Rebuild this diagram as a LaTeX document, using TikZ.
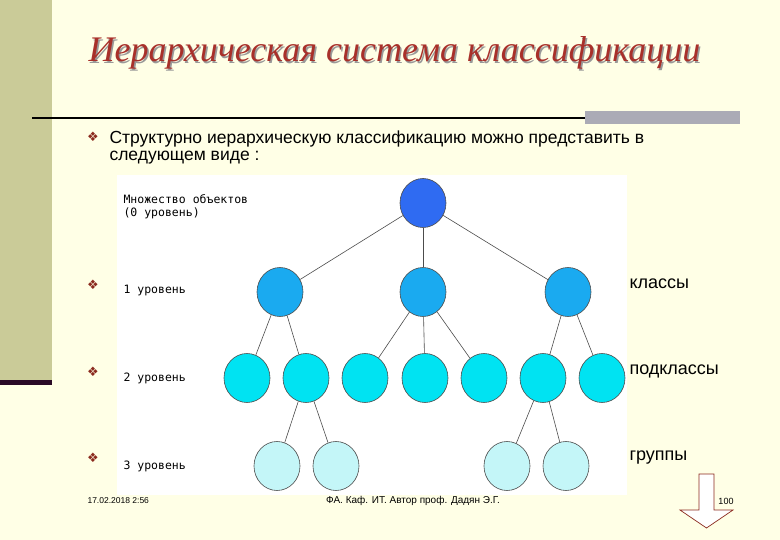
\documentclass[tikz,border=0pt]{standalone}
\usepackage{fontspec}
\setmainfont{Liberation Sans}
\newfontfamily\ttl{Liberation Serif}
\newfontfamily\dej{DejaVu Sans}
\newfontfamily\mono{DejaVu Sans Mono}
\usetikzlibrary{shapes.geometric}
\definecolor{bg}{HTML}{FFFFE6}
\definecolor{olive}{HTML}{CACB98}
\definecolor{dkp}{HTML}{2A0A26}
\definecolor{ttlc}{HTML}{A8302A}
\definecolor{gbar}{HTML}{ABABB6}
\definecolor{c0}{HTML}{2F6BF2}
\definecolor{c1}{HTML}{1AAAF0}
\definecolor{c2}{HTML}{00E3F2}
\definecolor{c3}{HTML}{C4F6F8}
\definecolor{bul}{HTML}{8B2A1E}
\begin{document}
\begin{tikzpicture}[x=1pt,y=-1pt,
  nd/.style={ellipse,draw=black!70,line width=0.6pt,minimum width=46pt,minimum height=49pt,inner sep=0pt},
  lvl/.style={anchor=west,font=\mono\fontsize{11.5}{13}\selectfont,align=left},
  bl/.style={font=\dej\fontsize{13}{14}\selectfont,text=bul},
  rt/.style={anchor=west,font=\fontsize{18}{20}\selectfont},
  ed/.style={draw=black!70,line width=0.6pt}]
\useasboundingbox (0,0) rectangle (780,540);
\fill[bg] (0,0) rectangle (780,540);
\fill[olive] (0,0) rectangle (52,380);
\fill[dkp] (0,380) rectangle (52,385);
\fill[gbar] (585,111) rectangle (740,124);
\draw[line width=2pt] (32,118) -- (585,118);
\node[anchor=west,text=black!40,font=\ttl\itshape\fontsize{36}{40}\selectfont] at (86.5,54.5) {Иерархическая система классификации};
\node[anchor=west,text=ttlc,font=\ttl\itshape\fontsize{36}{40}\selectfont] (title) at (85,53) {Иерархическая система классификации};
\node[bl] (b0) at (93,137) {❖};
\node[anchor=north west,align=left,font=\fontsize{17.5}{17}\selectfont] (t0) at (106,127) {Структурно иерархическую классификацию можно представить в\\следующем виде :};
\fill[white] (117,175) rectangle (627,495);
\node[nd,fill=c0] (r) at (423,203) {};
\node[nd,fill=c1] (a1) at (280,292) {};
\node[nd,fill=c1] (a2) at (423,292) {};
\node[nd,fill=c1] (a3) at (568,292) {};
\foreach \i/\x in {1/247,2/306,3/365,4/425,5/484,6/543,7/602}
  \node[nd,fill=c2] (b\i) at (\x,378) {};
\foreach \i/\x in {1/277,2/336,3/507,4/566}
  \node[nd,fill=c3] (c\i) at (\x,466) {};
\foreach \p/\c in {r/a1,r/a2,r/a3,a1/b1,a1/b2,a2/b3,a2/b4,a2/b5,a3/b6,a3/b7,b2/c1,b2/c2,b6/c3,b6/c4}
  \draw[ed] (\p) -- (\c);
\node[lvl] (l0) at (120,207) {Множество объектов\\(0 уровень)};
\node[lvl] (l1) at (120,291) {1 уровень};
\node[lvl] (l2) at (120,378) {2 уровень};
\node[lvl] (l3) at (120,466) {3 уровень};
\node[bl] (b1) at (93,285) {❖};
\node[bl] (b2) at (93,372) {❖};
\node[bl] (b3) at (93,458) {❖};
\node[rt] (k1) at (626,284) {классы};
\node[rt] (k2) at (626,371) {подклассы};
\node[rt] (k3) at (626,458) {группы};
\node[anchor=west,font=\fontsize{8.5}{9}\selectfont] (f1) at (84,501) {17.02.2018 2:56};
\node[font=\fontsize{10}{11}\selectfont] (f2) at (413,501) {ФА. Каф. ИТ. Автор проф. Дадян Э.Г.};
\node[font=\fontsize{9}{10}\selectfont] (f3) at (726,501) {100};
\draw[draw=bul,fill=white,line width=0.7pt] (699,474) -- (714,474) -- (714,510) -- (733,510) -- (706.5,528) -- (680,510) -- (699,510) -- cycle;
\end{tikzpicture}
\end{document}
